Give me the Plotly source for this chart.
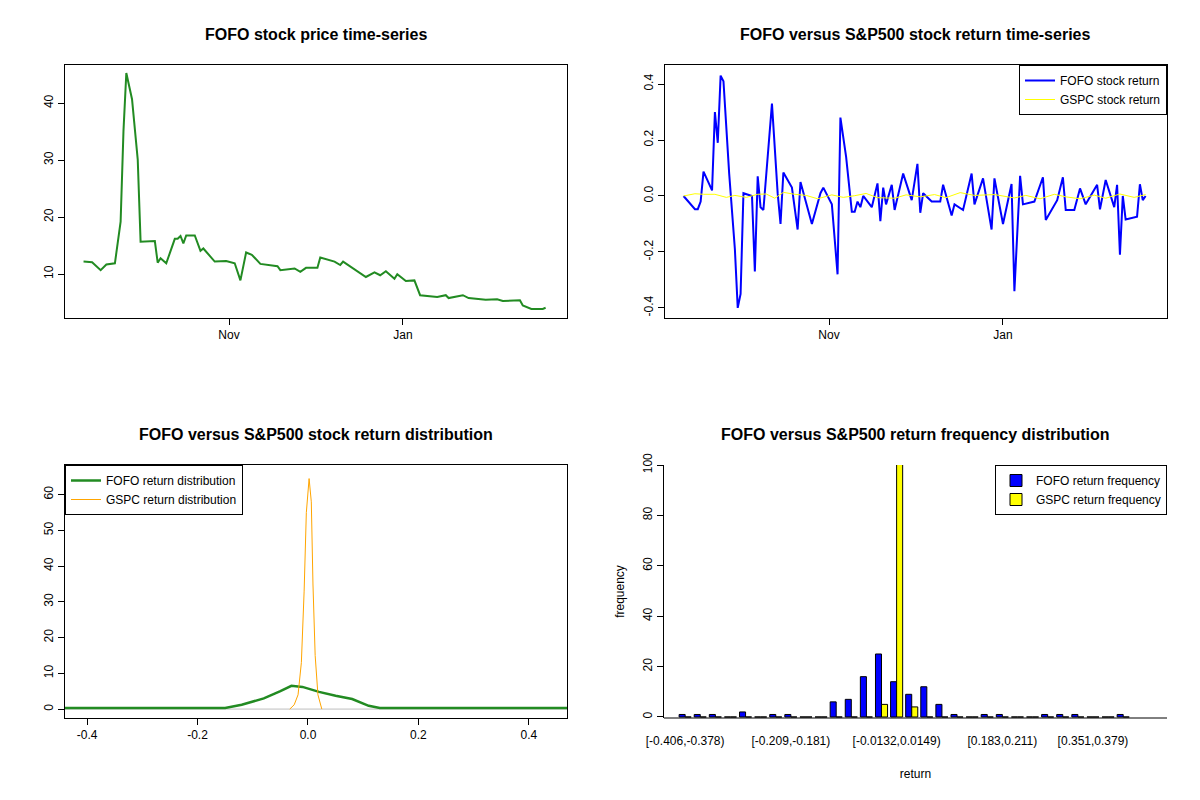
import plotly.graph_objects as go

# FOFO price
price_dates = ["2014-09-11", "2014-09-14", "2014-09-17", "2014-09-19", "2014-09-22", "2014-09-24",
               "2014-09-25", "2014-09-26", "2014-09-28", "2014-09-30", "2014-10-01", "2014-10-06",
               "2014-10-07", "2014-10-08", "2014-10-10", "2014-10-13", "2014-10-14", "2014-10-15",
               "2014-10-16", "2014-10-17", "2014-10-20", "2014-10-22", "2014-10-23", "2014-10-27",
               "2014-10-31", "2014-11-03", "2014-11-05", "2014-11-07", "2014-11-09", "2014-11-12",
               "2014-11-18", "2014-11-19", "2014-11-24", "2014-11-26", "2014-11-28", "2014-12-02",
               "2014-12-03", "2014-12-08", "2014-12-10", "2014-12-11", "2014-12-19", "2014-12-22",
               "2014-12-24", "2014-12-26", "2014-12-29", "2014-12-30", "2015-01-02", "2015-01-05",
               "2015-01-07", "2015-01-09", "2015-01-13", "2015-01-16", "2015-01-17", "2015-01-22",
               "2015-01-24", "2015-01-30", "2015-02-03", "2015-02-05", "2015-02-11", "2015-02-12",
               "2015-02-14", "2015-02-15", "2015-02-19", "2015-02-20"]
price_vals = [12.2, 12.1, 10.7, 11.7, 11.9, 19.2, 35.1, 45.3, 40.7, 30.1, 15.7, 15.8,
              12.0, 12.8, 11.9, 16.2, 16.2, 16.7, 15.4, 16.8, 16.8, 14.1, 14.5, 12.2,
              12.3, 11.9, 8.9, 13.8, 13.4, 11.8, 11.4, 10.7, 11.0, 10.4, 11.1, 11.1,
              12.9, 12.2, 11.6, 12.2, 9.5, 10.3, 9.8, 10.5, 9.2, 10.0, 8.8, 8.9,
              6.3, 6.2, 6.0, 6.3, 5.8, 6.3, 5.8, 5.5, 5.6, 5.3, 5.4, 4.5,
              4.1, 3.9, 3.9, 4.1]

ret_dates = ["2014-09-11", "2014-09-15", "2014-09-16", "2014-09-17", "2014-09-18", "2014-09-21",
             "2014-09-22", "2014-09-23", "2014-09-24", "2014-09-25", "2014-09-27", "2014-09-29",
             "2014-09-30", "2014-10-01", "2014-10-02", "2014-10-05", "2014-10-06", "2014-10-07",
             "2014-10-08", "2014-10-09", "2014-10-12", "2014-10-14", "2014-10-15", "2014-10-16",
             "2014-10-19", "2014-10-21", "2014-10-22", "2014-10-26", "2014-10-29", "2014-10-30",
             "2014-11-02", "2014-11-04", "2014-11-05", "2014-11-07", "2014-11-09", "2014-11-10",
             "2014-11-11", "2014-11-12", "2014-11-13", "2014-11-16", "2014-11-18", "2014-11-19",
             "2014-11-20", "2014-11-21", "2014-11-23", "2014-11-24", "2014-11-27", "2014-11-30",
             "2014-12-02", "2014-12-03", "2014-12-04", "2014-12-07", "2014-12-10", "2014-12-11",
             "2014-12-14", "2014-12-15", "2014-12-18", "2014-12-21", "2014-12-22", "2014-12-25",
             "2014-12-28", "2014-12-29", "2015-01-01", "2015-01-04", "2015-01-05", "2015-01-07",
             "2015-01-08", "2015-01-12", "2015-01-15", "2015-01-16", "2015-01-20", "2015-01-22",
             "2015-01-23", "2015-01-26", "2015-01-28", "2015-01-30", "2015-02-03", "2015-02-04",
             "2015-02-06", "2015-02-09", "2015-02-10", "2015-02-11", "2015-02-12", "2015-02-13",
             "2015-02-17", "2015-02-18", "2015-02-19", "2015-02-20"]
fofo_ret = [0.0, -0.047, -0.047, -0.02, 0.087, 0.02, 0.30, 0.19, 0.43, 0.41, 0.08, -0.19,
            -0.40, -0.35, 0.01, 0.0, -0.27, 0.07, -0.04, -0.05, 0.33, 0.01, -0.10, 0.084,
            0.03, -0.12, 0.05, -0.10, 0.01, 0.03, -0.03, -0.28, 0.28, 0.14, -0.056, -0.056,
            -0.02, -0.04, 0.0, -0.04, 0.045, -0.09, 0.03, -0.03, 0.04, -0.05, 0.08, -0.015,
            0.115, -0.06, 0.01, -0.02, -0.02, 0.04, -0.07, -0.03, -0.05, 0.08, -0.03, 0.063,
            -0.12, 0.063, -0.10, 0.043, -0.34, 0.072, -0.03, -0.02, 0.067, -0.086, -0.015, 0.067,
            -0.05, -0.05, 0.027, -0.03, 0.04, -0.048, 0.057, -0.04, 0.04, -0.21, 0.0, -0.084,
            -0.074, 0.042, -0.015, 0.0]
gspc_dates = ["2014-09-11", "2014-09-15", "2014-09-18", "2014-09-22", "2014-09-26", "2014-09-29",
              "2014-10-03", "2014-10-07", "2014-10-10", "2014-10-13", "2014-10-16", "2014-10-20",
              "2014-10-24", "2014-10-28", "2014-11-02", "2014-11-06", "2014-11-10", "2014-11-14",
              "2014-11-18", "2014-11-24", "2014-11-28", "2014-12-03", "2014-12-08", "2014-12-12",
              "2014-12-17", "2014-12-22", "2014-12-29", "2015-01-05", "2015-01-09", "2015-01-14",
              "2015-01-19", "2015-01-23", "2015-01-28", "2015-02-02", "2015-02-06", "2015-02-11",
              "2015-02-16", "2015-02-20"]
gspc_ret = [0.0, 0.008, 0.006, 0.006, -0.005, 0.002, -0.005, 0.006, 0.007, -0.008, 0.013,
            0.006, 0.002, -0.01, 0.004, -0.005, 0.001, 0.009, -0.006, -0.008, 0.004, -0.003,
            0.005, -0.006, 0.012, 0.002, 0.005, -0.007, 0.002, -0.01, 0.006, -0.003, -0.01,
            0.003, -0.008, 0.007, -0.005, 0.005]

dens_x = [-0.44, -0.15, -0.12, -0.08, -0.05, -0.03, -0.01, 0.02, 0.05, 0.08, 0.11, 0.13, 0.47]
fofo_dens = [0.3, 0.3, 1.2, 3.0, 5.0, 6.5, 6.2, 4.8, 3.7, 2.8, 0.9, 0.3, 0.3]
gspc_dens_x = [-0.033, -0.025, -0.018, -0.012, -0.007, -0.003, 0.002, 0.006, 0.009, 0.013, 0.018, 0.025]
gspc_dens = [0.0, 1.2, 4.0, 13.0, 33.0, 55.0, 64.5, 58.0, 35.0, 15.0, 4.0, 0.0]

bin_idx = list(range(30))
fofo_freq = [1, 1, 1, 0, 2, 0, 1, 1, 0, 0, 6, 7, 16, 25, 14, 9, 12, 5, 1, 0,
             1, 1, 0, 0, 1, 1, 1, 0, 0, 1]
gspc_freq = [0] * 13 + [5, 110, 4] + [0] * 14
bin_tick_pos = [0, 7, 14, 21, 27]
bin_tick_text = ["[-0.406,-0.378)", "[-0.209,-0.181)", "[-0.0132,0.0149)", "[0.183,0.211)", "[0.351,0.379)"]


# the page puts the figure 8px in from the corner, so pixel positions are shifted
def px(x):
    return (x - 8) / 1200


def py(y):
    return 1 - (y - 8) / 800


fig = go.Figure()
fig.add_trace(go.Scatter(x=price_dates, y=price_vals, mode="lines", line=dict(color="#228B22", width=2),
                         xaxis="x", yaxis="y", showlegend=False))
fig.add_trace(go.Scatter(x=ret_dates, y=fofo_ret, mode="lines", line=dict(color="blue", width=2),
                         name="FOFO stock return", xaxis="x2", yaxis="y2", legend="legend"))
fig.add_trace(go.Scatter(x=gspc_dates, y=gspc_ret, mode="lines", line=dict(color="yellow", width=1),
                         name="GSPC stock return", xaxis="x2", yaxis="y2", legend="legend"))
fig.add_trace(go.Scatter(x=[-0.44, 0.47], y=[0, 0], mode="lines", line=dict(color="#BEBEBE", width=1),
                         xaxis="x3", yaxis="y3", showlegend=False))
fig.add_trace(go.Scatter(x=dens_x, y=fofo_dens, mode="lines", line=dict(color="#228B22", width=2.5),
                         name="FOFO return distribution", xaxis="x3", yaxis="y3", legend="legend2"))
fig.add_trace(go.Scatter(x=gspc_dens_x, y=gspc_dens, mode="lines", line=dict(color="orange", width=1),
                         name="GSPC return distribution", xaxis="x3", yaxis="y3", legend="legend2"))
fig.add_trace(go.Bar(x=bin_idx, y=fofo_freq, marker=dict(color="blue", line=dict(color="black", width=1)),
                     name="FOFO return frequency", xaxis="x4", yaxis="y4", legend="legend3"))
fig.add_trace(go.Bar(x=bin_idx, y=gspc_freq, marker=dict(color="yellow", line=dict(color="black", width=1)),
                     name="GSPC return frequency", xaxis="x4", yaxis="y4", legend="legend3"))

ax = dict(showline=True, linecolor="black", linewidth=1, mirror=True, ticks="outside",
          tickcolor="black", ticklen=6, showgrid=False, zeroline=False, automargin=False,
          tickfont=dict(size=12, color="black"))
xl, xr = [px(65), px(567)], [px(665), px(1167)]
yt, yb = [py(318), py(65)], [py(718), py(465)]
date_ticks = dict(tickvals=["2014-11-01", "2015-01-01"], ticktext=["Nov", "Jan"])

fig.update_layout(
    width=1200, height=800, margin=dict(l=0, r=0, t=0, b=0, autoexpand=False),
    paper_bgcolor="white", plot_bgcolor="white",
    font=dict(family="Liberation Sans, Arial", size=12, color="black"),
    barmode="group", bargap=0.2, bargroupgap=0,
    xaxis=dict(ax, domain=xl, anchor="y", type="date", range=["2014-09-04 12:00", "2015-02-27 12:00"], **date_ticks),
    yaxis=dict(ax, domain=yt, anchor="x", range=[2.3, 46.7], tickvals=[10, 20, 30, 40], tickangle=-90),
    xaxis2=dict(ax, domain=xr, anchor="y2", type="date", range=["2014-09-04 12:00", "2015-02-27 12:00"], **date_ticks),
    yaxis2=dict(ax, domain=yt, anchor="x2", range=[-0.436, 0.468], tickvals=[-0.4, -0.2, 0, 0.2, 0.4],
                ticktext=["-0.4", "-0.2", "0.0", "0.2", "0.4"], tickangle=-90),
    xaxis3=dict(ax, domain=xl, anchor="y3", range=[-0.44, 0.469], tickvals=[-0.4, -0.2, 0, 0.2, 0.4],
                ticktext=["-0.4", "-0.2", "0.0", "0.2", "0.4"]),
    yaxis3=dict(ax, domain=yb, anchor="x3", range=[-2.5, 68.3], tickvals=[0, 10, 20, 30, 40, 50, 60], tickangle=-90),
    xaxis4=dict(ax, domain=[px(664), px(1167)], anchor="y4", range=[-1.4, 31.9],
                tickvals=bin_tick_pos, ticktext=bin_tick_text, mirror=False, showline=False, ticks="",
                ticklabelstandoff=14, title=dict(text="return", font=dict(size=12), standoff=22)),
    yaxis4=dict(ax, domain=yb, anchor="x4", range=[-0.4, 100], tickvals=[0, 20, 40, 60, 80, 100], tickangle=-90,
                mirror=False, title=dict(text="frequency", font=dict(size=12), standoff=14)),
    legend=dict(x=px(1167), y=py(65), xanchor="right", yanchor="top", bordercolor="black",
                borderwidth=1, bgcolor="white", font=dict(size=12), tracegroupgap=0),
    legend2=dict(x=px(65), y=py(465), xanchor="left", yanchor="top", bordercolor="black",
                 borderwidth=1, bgcolor="white", font=dict(size=12)),
    legend3=dict(x=px(1167), y=py(465), xanchor="right", yanchor="top", bordercolor="black",
                 borderwidth=1, bgcolor="white", font=dict(size=12)),
)

titles = [("FOFO stock price time-series", 316, 35), ("FOFO versus S&P500 stock return time-series", 915, 35),
          ("FOFO versus S&P500 stock return distribution", 316, 435),
          ("FOFO versus S&P500 return frequency distribution", 915, 435)]
for t, x, y in titles:
    fig.add_annotation(text="<b>%s</b>" % t, x=px(x), y=py(y), xref="paper", yref="paper",
                       xanchor="center", yanchor="middle", showarrow=False, font=dict(size=16))
# bottom axis line for histogram
fig.add_shape(type="line", xref="paper", yref="paper", x0=px(664), x1=px(1167),
              y0=py(718), y1=py(718), line=dict(color="black", width=1))

fig.write_html("out.html")
